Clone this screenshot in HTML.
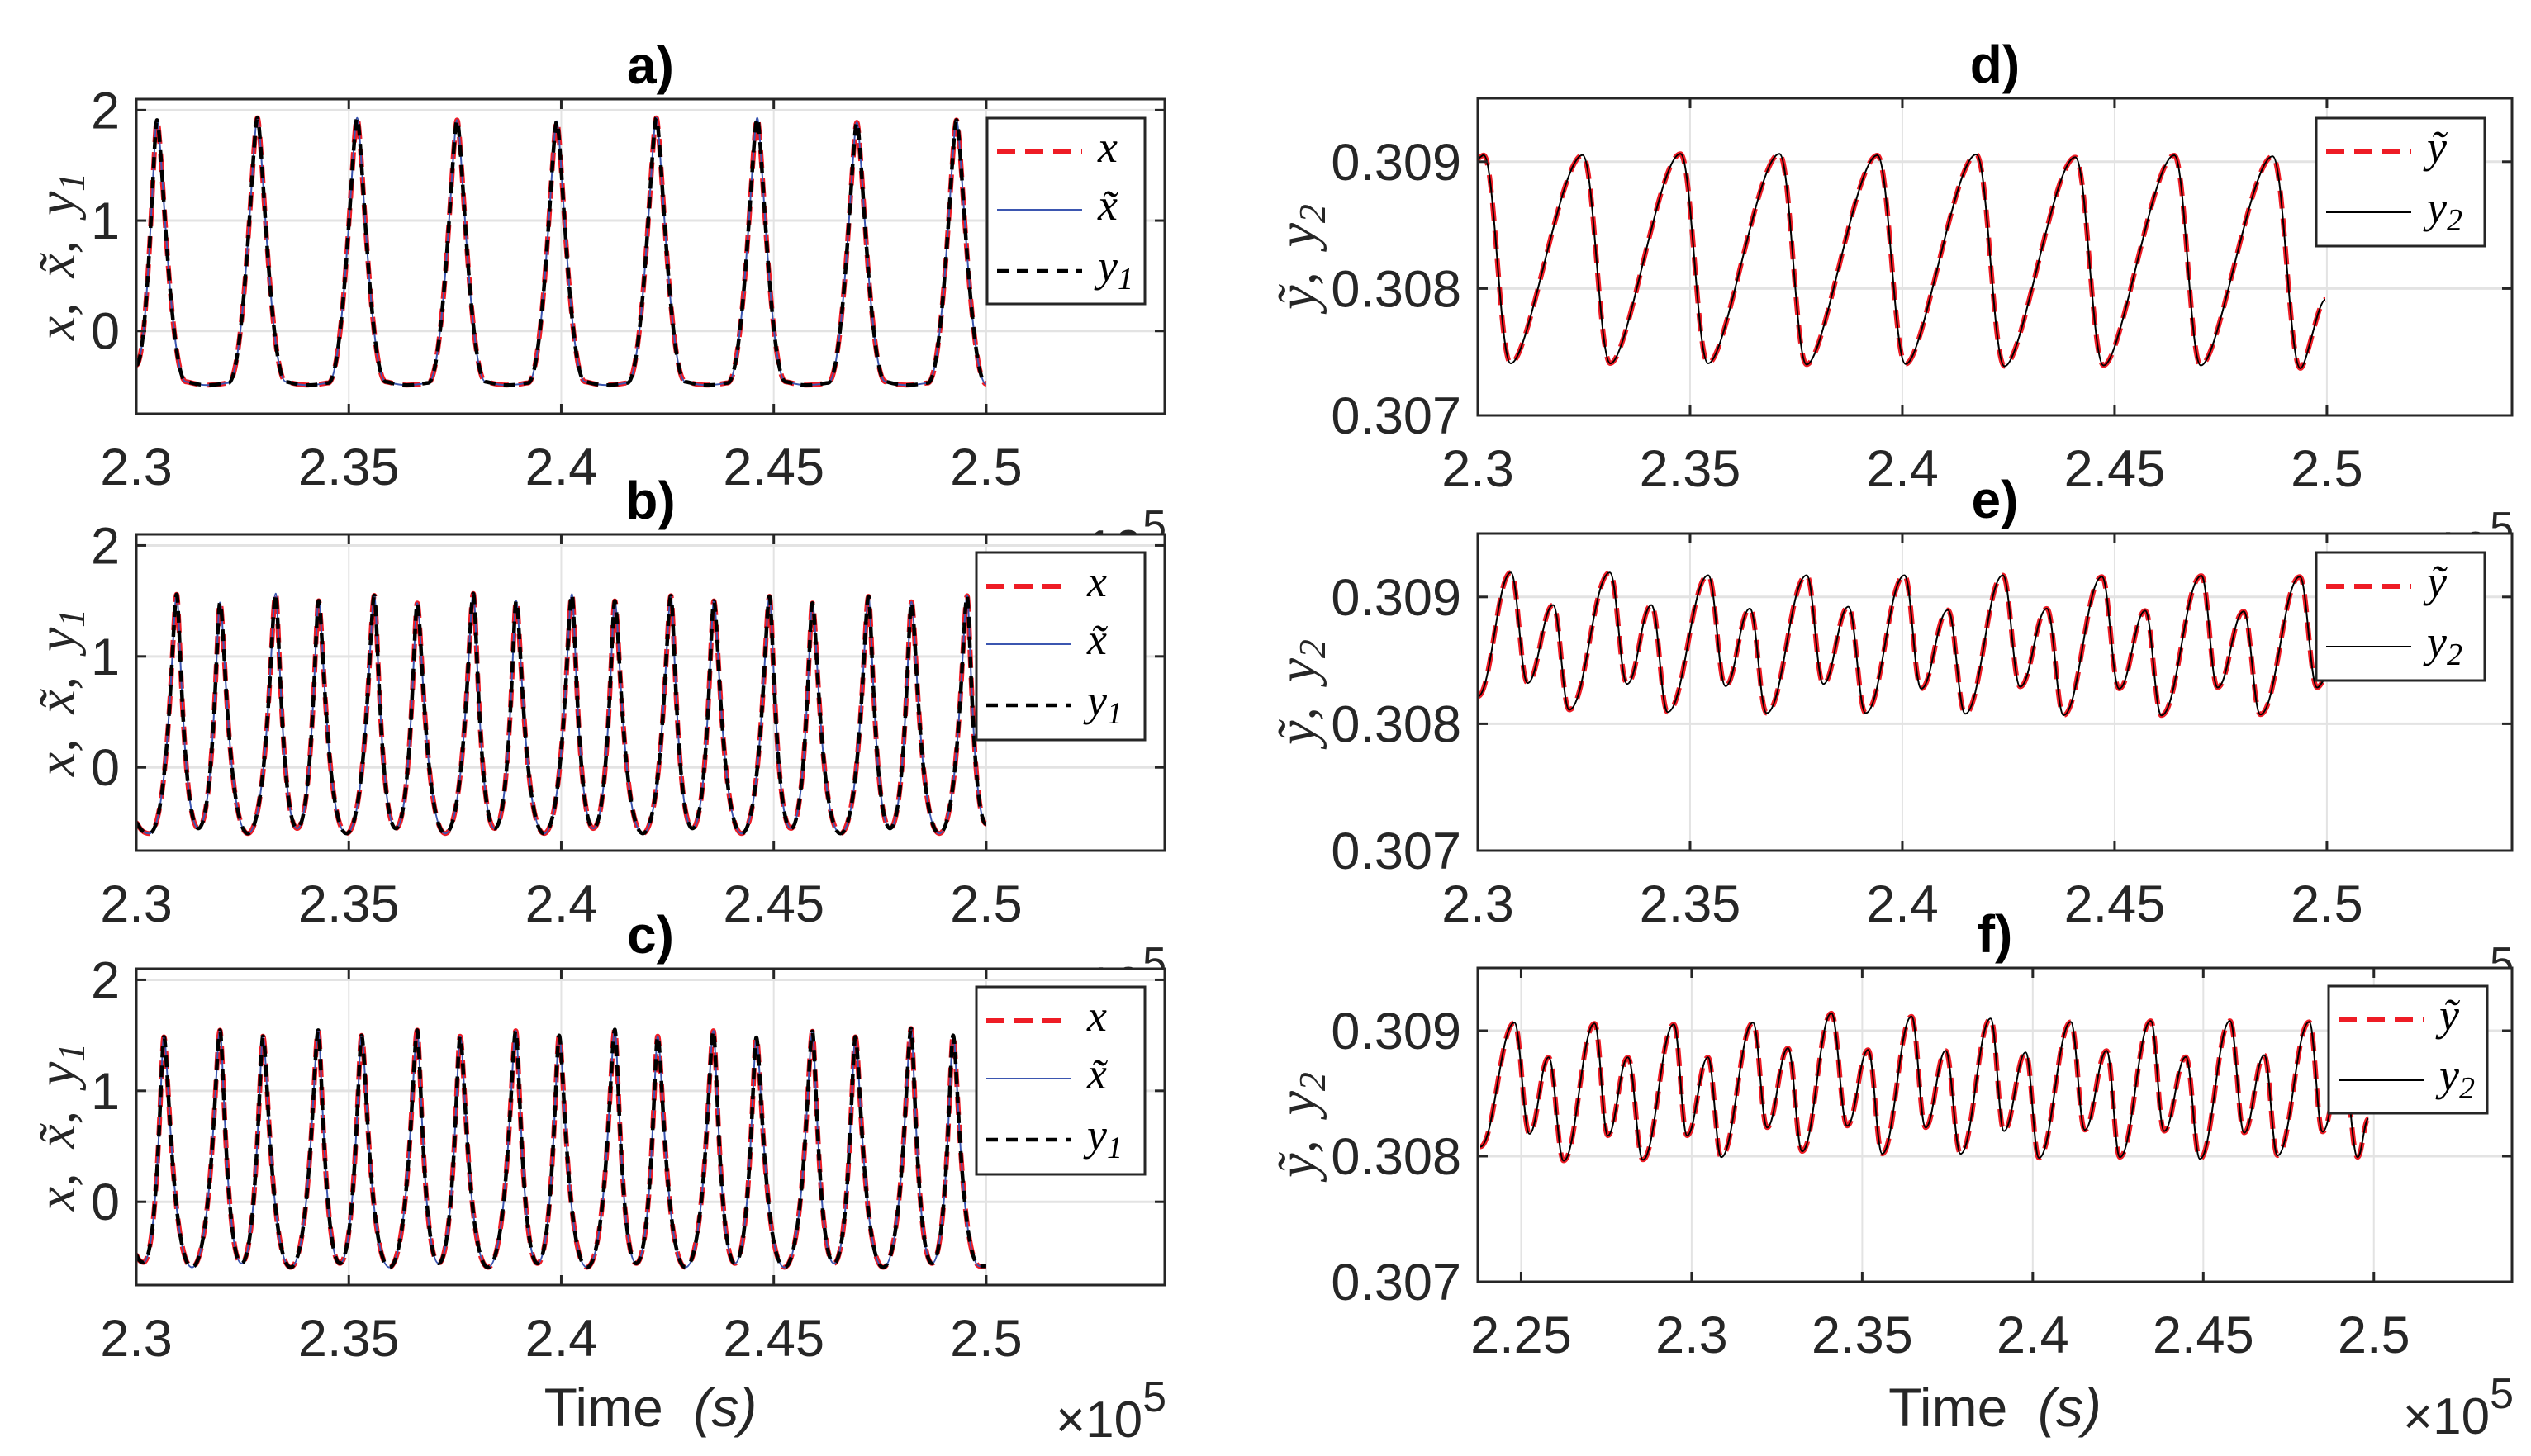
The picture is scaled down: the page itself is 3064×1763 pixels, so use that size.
<!DOCTYPE html>
<html><head><meta charset="utf-8"><title>Time series panels a–f</title>
<style>html,body{margin:0;padding:0;background:#fff;}svg{display:block;}</style>
</head><body>
<svg id="fig" xmlns="http://www.w3.org/2000/svg" width="3064" height="1763" viewBox="0 0 3064 1763">
<rect x="0" y="0" width="3064" height="1763" fill="#fff"/>
</svg>
<script>
// ---- data (time in units of 1e5 s) ----
const aT=[2.3,2.30486,2.3117,2.3167,2.3217,2.3285,2.3352,2.3402,2.3452,2.35195,2.3587,2.3637,2.3687,2.37549,2.3822,2.3872,2.3922,2.39893,2.4056,2.4106,2.4156,2.42237,2.4292,2.4342,2.4392,2.44611,2.4528,2.4578,2.4628,2.46956,2.4763,2.4813,2.4863,2.493,2.5];
const aV=[-0.31,1.91,-0.46,-0.49,-0.47,1.93,-0.46,-0.49,-0.47,1.93,-0.46,-0.49,-0.47,1.91,-0.46,-0.49,-0.47,1.9,-0.46,-0.49,-0.47,1.93,-0.46,-0.49,-0.47,1.93,-0.46,-0.49,-0.47,1.89,-0.46,-0.49,-0.47,1.91,-0.48];
const bT=[2.3,2.3031,2.3095,2.3146,2.3197,2.32625,2.3328,2.33785,2.3429,2.34945,2.356,2.36105,2.3661,2.3727,2.3793,2.38435,2.3894,2.39595,2.4025,2.40755,2.4126,2.4192,2.4258,2.43085,2.4359,2.44245,2.449,2.45405,2.4591,2.4657,2.4723,2.47735,2.4824,2.48895,2.4955,2.5];
const bV=[-0.50,-0.595,1.559,-0.55,1.486,-0.595,1.566,-0.55,1.501,-0.595,1.549,-0.55,1.481,-0.595,1.566,-0.55,1.501,-0.595,1.561,-0.55,1.50,-0.595,1.546,-0.55,1.50,-0.595,1.541,-0.55,1.481,-0.595,1.541,-0.55,1.491,-0.595,1.546,-0.51];
const cT=[2.3,2.3017,2.3065,2.3131,2.3197,2.32475,2.3298,2.3363,2.3428,2.3479,2.353,2.35955,2.3661,2.37115,2.3762,2.38275,2.3893,2.3944,2.3995,2.40605,2.4126,2.41765,2.4227,2.42925,2.4358,2.44085,2.4459,2.4525,2.4591,2.46415,2.4692,2.47575,2.4823,2.48725,2.4922,2.4985,2.5];
const cV=[-0.48,-0.545,1.486,-0.59,1.546,-0.555,1.491,-0.59,1.546,-0.555,1.499,-0.59,1.546,-0.555,1.491,-0.59,1.541,-0.555,1.499,-0.59,1.553,-0.555,1.491,-0.59,1.541,-0.555,1.482,-0.59,1.536,-0.555,1.486,-0.59,1.561,-0.555,1.5,-0.58,-0.58];
const dT=[2.3,2.30136,2.30777,2.32468,2.33123,2.34772,2.35427,2.37104,2.37745,2.39409,2.40077,2.4174,2.42408,2.44072,2.4474,2.46404,2.47031,2.48722,2.49377,2.49963];
const dV=[0.309024,0.309053,0.30741,0.309053,0.30741,0.309062,0.30741,0.309062,0.307401,0.309051,0.307405,0.309057,0.307388,0.309035,0.307394,0.309051,0.307394,0.309042,0.307372,0.307912];
const eT=[2.3,2.30777,2.31173,2.31773,2.32154,2.33109,2.33518,2.3409,2.34472,2.35427,2.35836,2.36408,2.36804,2.37745,2.3814,2.38726,2.39135,2.40049,2.40444,2.41072,2.41481,2.42367,2.42776,2.43403,2.43799,2.44699,2.45108,2.45721,2.46103,2.47044,2.47425,2.48039,2.48434,2.49362,2.49771,2.49962];
const eV=[0.308215,0.309193,0.308321,0.308936,0.30811,0.309193,0.308314,0.308936,0.308092,0.309171,0.308297,0.308908,0.308084,0.309171,0.308314,0.308923,0.308084,0.309171,0.308277,0.308897,0.308079,0.309171,0.308292,0.308908,0.308068,0.30916,0.308277,0.308892,0.308066,0.309167,0.308286,0.308886,0.308073,0.30916,0.308286,0.308347];
const fT=[2.23802,2.24804,2.25245,2.25807,2.26247,2.27152,2.27543,2.2813,2.2857,2.29474,2.29866,2.30477,2.30868,2.31797,2.32213,2.32824,2.3324,2.34095,2.3456,2.35171,2.35587,2.36443,2.36858,2.37445,2.37885,2.38765,2.39157,2.39792,2.40183,2.41113,2.41528,2.42164,2.42555,2.4346,2.43851,2.44487,2.44902,2.45783,2.46198,2.46785,2.47176,2.48105,2.48496,2.49083,2.49523,2.49841];
const fV=[0.308075,0.309064,0.308178,0.308788,0.307964,0.309058,0.308164,0.308788,0.307972,0.30905,0.308164,0.308788,0.307992,0.309064,0.308228,0.308861,0.308039,0.309139,0.308242,0.308847,0.308019,0.309114,0.308228,0.308841,0.308019,0.309097,0.3082,0.308827,0.307986,0.30907,0.308209,0.308841,0.307992,0.309078,0.3082,0.308791,0.307978,0.309078,0.308187,0.308805,0.308006,0.30907,0.308195,0.3088,0.307992,0.308298];
const xTicksA=[2.3,2.35,2.4,2.45,2.5];
const xTickLabelsA=["2.3","2.35","2.4","2.45","2.5"];
const xTicksF=[2.25,2.3,2.35,2.4,2.45,2.5];
const xTickLabelsF=["2.25","2.3","2.35","2.4","2.45","2.5"];
const yTicksL=[0,1,2];
const yTickLabelsL=["0","1","2"];
const yTicksR=[0.307,0.308,0.309];
const yTickLabelsR=["0.307","0.308","0.309"];

const NS="http://www.w3.org/2000/svg";
const svg=document.getElementById('fig');
function mk(tag,attrs,parent){const e=document.createElementNS(NS,tag);for(const k in attrs)e.setAttribute(k,attrs[k]);(parent||svg).appendChild(e);return e;}

// shape: [rise k1, rise k2, fall k1, fall k2]
const panels=[
 {id:'a',x0:165,x1:1410,y0:120,y1:501,xlim:[2.3,2.542],ylim:[-0.75,2.1],T:aT,V:aV,side:'L',xt:xTicksA,xl:xTickLabelsA,leg:[1195,143,191,225],shape:[0.55,0.15,0.15,0.55]},
 {id:'b',x0:165,x1:1410,y0:647,y1:1030,xlim:[2.3,2.542],ylim:[-0.75,2.1],T:bT,V:bV,side:'L',xt:xTicksA,xl:xTickLabelsA,leg:[1182,669,204,227],shape:[0.72,0.14,0.14,0.72]},
 {id:'c',x0:165,x1:1410,y0:1173,y1:1556,xlim:[2.3,2.542],ylim:[-0.75,2.1],T:cT,V:cV,side:'L',xt:xTicksA,xl:xTickLabelsA,leg:[1182,1195,204,227],bottom:true,shape:[0.72,0.14,0.14,0.72]},
 {id:'d',x0:1789,x1:3041,y0:119,y1:503,xlim:[2.3,2.5436],ylim:[0.307,0.3095],T:dT,V:dV,side:'R',xt:xTicksA,xl:xTickLabelsA,leg:[2804,143,204,155],shape:[0.25,0.3,0.4,0.4]},
 {id:'e',x0:1789,x1:3041,y0:646,y1:1030,xlim:[2.3,2.5436],ylim:[0.307,0.3095],T:eT,V:eV,side:'R',xt:xTicksA,xl:xTickLabelsA,leg:[2804,669,204,155],shape:[0.4,0.4,0.4,0.4]},
 {id:'f',x0:1789,x1:3041,y0:1172,y1:1552,xlim:[2.2373,2.5405],ylim:[0.307,0.3095],T:fT,V:fV,side:'R',xt:xTicksF,xl:xTickLabelsF,leg:[2819,1194,192,154],bottom:true,shape:[0.4,0.4,0.4,0.4]}
];

function path(T,V,sx,sy,sh){
  let d='M'+sx(T[0]).toFixed(1)+' '+sy(V[0]).toFixed(1);
  for(let i=1;i<T.length;i++){
    const x0=sx(T[i-1]),y0=sy(V[i-1]),x1=sx(T[i]),y1=sy(V[i]);const dx=x1-x0;
    let k1,k2;
    if(V[i]>V[i-1]){k1=sh[0];k2=sh[1];} else {k1=sh[2];k2=sh[3];}
    d+=' C'+(x0+k1*dx).toFixed(1)+' '+y0.toFixed(1)+' '+(x1-k2*dx).toFixed(1)+' '+y1.toFixed(1)+' '+x1.toFixed(1)+' '+y1.toFixed(1);
  }
  return d;
}

panels.forEach(p=>{
  const t=mk('text',{x:p.x1+2,y:p.y1+184,'text-anchor':'end','font-family':'Liberation Sans, sans-serif','font-size':62,fill:'#262626'});
  
  
  t.innerHTML='×10<tspan font-size="52" dy="-31">5</tspan>';
});

panels.forEach(p=>{
  const g=mk('g',{});
  
  
  const sx=v=>p.x0+(v-p.xlim[0])/(p.xlim[1]-p.xlim[0])*(p.x1-p.x0);
  const sy=v=>p.y1-(v-p.ylim[0])/(p.ylim[1]-p.ylim[0])*(p.y1-p.y0);
  const bg=mk('rect',{x:p.x0,y:p.y0,width:p.x1-p.x0,height:p.y1-p.y0,fill:'#fff'},g);
  
  
  const yt=p.side==='L'?yTicksL:yTicksR, yl=p.side==='L'?yTickLabelsL:yTickLabelsR;
  p.xt.forEach(v=>{const l=mk('line',{x1:sx(v),x2:sx(v),y1:p.y0,y2:p.y1,stroke:'#e3e3e3','stroke-width':2},g);
    
    });
  yt.forEach(v=>{const l=mk('line',{x1:p.x0,x2:p.x1,y1:sy(v),y2:sy(v),stroke:'#e3e3e3','stroke-width':3},g);
    
    });
  const clipId='clip'+p.id;
  const cp=mk('clipPath',{id:clipId},g);mk('rect',{x:p.x0,y:p.y0,width:p.x1-p.x0,height:p.y1-p.y0},cp);
  const d=path(p.T,p.V,sx,sy,p.shape);
  if(p.side==='L'){
    const s1=mk('path',{d:d,fill:'none',stroke:'#ee1c25','stroke-width':6,'stroke-dasharray':'22 12','clip-path':'url(#'+clipId+')'},g);
    
    
    const s2=mk('path',{d:d,fill:'none',stroke:'#3b56b0','stroke-width':2,'clip-path':'url(#'+clipId+')'},g);
    
    
    const s3=mk('path',{d:d,fill:'none',stroke:'#000','stroke-width':4.5,'stroke-dasharray':'14 10','clip-path':'url(#'+clipId+')'},g);
    
    
  } else {
    const s1=mk('path',{d:d,fill:'none',stroke:'#ee1c25','stroke-width':6,'stroke-dasharray':'22 12','clip-path':'url(#'+clipId+')'},g);
    
    
    const s2=mk('path',{d:d,fill:'none',stroke:'#000','stroke-width':2,'clip-path':'url(#'+clipId+')'},g);
    
    
  }
  p.xt.forEach((v,i)=>{
    mk('line',{x1:sx(v),x2:sx(v),y1:p.y1,y2:p.y1-12,stroke:'#262626','stroke-width':3},g);
    mk('line',{x1:sx(v),x2:sx(v),y1:p.y0,y2:p.y0+12,stroke:'#262626','stroke-width':3},g);
    const t=mk('text',{x:sx(v),y:p.y1+86,'text-anchor':'middle','font-family':'Liberation Sans, sans-serif','font-size':63,fill:'#262626'},g);
    
    
    t.textContent=p.xl[i];
  });
  yt.forEach((v,i)=>{
    mk('line',{x1:p.x0,x2:p.x0+12,y1:sy(v),y2:sy(v),stroke:'#262626','stroke-width':3},g);
    mk('line',{x1:p.x1,x2:p.x1-12,y1:sy(v),y2:sy(v),stroke:'#262626','stroke-width':3},g);
    const t=mk('text',{x:p.x0-20,y:sy(v)+22,'text-anchor':'end','font-family':'Liberation Sans, sans-serif','font-size':63,fill:'#262626'},g);
    
    
    t.textContent=yl[i];
  });
  const box=mk('rect',{x:p.x0,y:p.y0,width:p.x1-p.x0,height:p.y1-p.y0,fill:'none',stroke:'#262626','stroke-width':3},g);
  
  
  const ti=mk('text',{x:(p.x0+p.x1)/2,y:p.y0-19,'text-anchor':'middle','font-family':'Liberation Sans, sans-serif','font-weight':'bold','font-size':64,fill:'#000'},g);
  
  
  ti.textContent=p.id+')';
  const cy=(p.y0+p.y1)/2, lx=p.side==='L'?90:1592;
  const yl2=mk('text',{x:lx,y:cy,transform:'rotate(-90 '+lx+' '+cy+')','text-anchor':'middle','font-family':'Liberation Serif, serif','font-style':'italic','font-size':66,fill:'#262626'},g);
  
  
  yl2.innerHTML=p.side==='L'?'x,\u2009 x\u0303,\u2009 y<tspan font-size="46" dy="12">1</tspan>':'y\u0303,\u2009 y<tspan font-size="46" dy="12">2</tspan>';
  const [lx0,ly0,lw,lh]=p.leg;
  const lg=mk('g',{},g);
  
  
  mk('rect',{x:lx0,y:ly0,width:lw,height:lh,fill:'#fff',stroke:'#262626','stroke-width':3},lg);
  let entries;
  if(p.side==='L') entries=[
    {s:{stroke:'#ee1c25','stroke-width':6,'stroke-dasharray':'22 12'},t:'x',dy:41,n:'legend-entry-x'},
    {s:{stroke:'#3b56b0','stroke-width':2},t:'x\u0303',dy:111,n:'legend-entry-x-tilde'},
    {s:{stroke:'#000','stroke-width':4.5,'stroke-dasharray':'14 10'},t:'y<tspan font-size="38" dy="10">1</tspan>',dy:185,n:'legend-entry-y1'}];
  else entries=[
    {s:{stroke:'#ee1c25','stroke-width':6,'stroke-dasharray':'22 12'},t:'y\u0303',dy:41,n:'legend-entry-y-tilde'},
    {s:{stroke:'#000','stroke-width':2},t:'y<tspan font-size="38" dy="10">2</tspan>',dy:114,n:'legend-entry-y2'}];
  entries.forEach(en=>{
    const a=Object.assign({x1:lx0+12,x2:lx0+115,y1:ly0+en.dy,y2:ly0+en.dy,fill:'none'},en.s);
    const ln=mk('line',a,lg);
    
    
    const tx=mk('text',{x:lx0+134,y:ly0+en.dy+12,'font-family':'Liberation Serif, serif','font-style':'italic','font-size':54,fill:'#000'},lg);
    
    
    tx.innerHTML=en.t;
  });
  if(p.bottom){
    const xl=mk('text',{x:(p.x0+p.x1)/2,y:1727,'text-anchor':'middle','font-family':'Liberation Sans, sans-serif','font-size':66,fill:'#262626'},g);
    
    
    xl.innerHTML='Time\u00a0 <tspan font-style="italic">(s)</tspan>';
  }
});
</script>
</body></html>
